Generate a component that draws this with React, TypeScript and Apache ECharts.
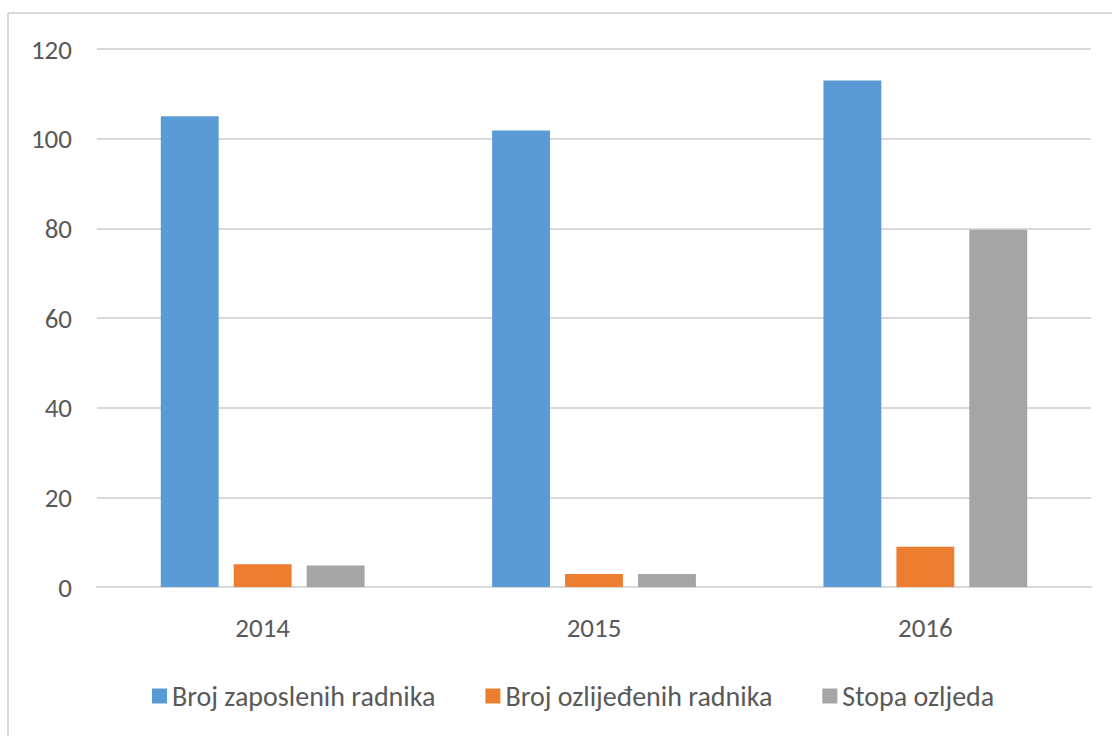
import React, { useEffect, useRef } from "react";
import * as echarts from "echarts";

const categories = ["2014", "2015", "2016"];
const seriesNames = ["Broj zaposlenih radnika", "Broj ozlijeđenih radnika", "Stopa ozljeda"];
const zaposleni = [105, 101.8, 113];
const ozlijedeni = [5.1, 2.9, 9];
const stopa = [4.8, 2.9, 79.7];
const colors = ["#5B9BD5", "#ED7D31", "#A5A5A5"];
const yTicks = { min: 0, max: 120, interval: 20 };

const FONT = "Carlito, Calibri, Lato, sans-serif";

export default function App() {
  const ref = useRef<HTMLDivElement>(null);
  useEffect(() => {
    if (!ref.current) return;
    const chart = echarts.init(ref.current, null, { renderer: "svg" });
    const values = [zaposleni, ozlijedeni, stopa];
    chart.setOption({
      animation: false,
      backgroundColor: "#ffffff",
      textStyle: { fontFamily: FONT },
      graphic: [
        { type: "line", shape: { x1: 8, y1: 13, x2: 1112, y2: 13 }, style: { stroke: "#D9D9D9", lineWidth: 2 } },
        { type: "line", shape: { x1: 8, y1: 13, x2: 8, y2: 736 }, style: { stroke: "#D9D9D9", lineWidth: 2 } },
      ],
      grid: { left: 97, right: 21, top: 49, bottom: 149, containLabel: false },
      legend: {
        left: 147,
        top: 677,
        itemWidth: 15,
        itemHeight: 15,
        itemGap: 50,
        itemStyle: { borderWidth: 0 },
        icon: "rect",
        textStyle: { fontFamily: FONT, fontSize: 28, color: "#595959" },
        data: seriesNames,
      },
      xAxis: {
        type: "category",
        data: categories,
        axisLine: { show: true, lineStyle: { color: "#D9D9D9", width: 2 } },
        axisTick: { show: false },
        axisLabel: { fontFamily: FONT, fontSize: 27, color: "#595959", margin: 27 },
      },
      yAxis: {
        type: "value",
        min: yTicks.min,
        max: yTicks.max,
        interval: yTicks.interval,
        axisLine: { show: false },
        axisTick: { show: false },
        splitLine: { lineStyle: { color: "#D9D9D9", width: 2 } },
        axisLabel: { fontFamily: FONT, fontSize: 27, color: "#595959", margin: 25 },
      },
      series: values.map((v, i) => ({
        name: seriesNames[i],
        type: "bar",
        data: v,
        barGap: "26%",
        barCategoryGap: "38.5%",
        itemStyle: { color: colors[i] },
      })),
    });
    return () => chart.dispose();
  }, []);
  return (
    <div style={{ position: "absolute", left: 0, top: 0, width: 1112, height: 736, background: "#fff" }}>
      <div ref={ref} style={{ width: 1112, height: 736 }} />
    </div>
  );
}
